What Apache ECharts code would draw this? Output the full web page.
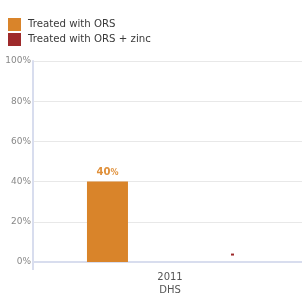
<!DOCTYPE html>
<html lang="en">
<head>
    <meta charset="UTF-8">
    <title>ORS chart</title>
    <script src="https://cdn.jsdelivr.net/npm/echarts@6/dist/echarts.min.js"></script>
    <style>
        html, body { margin: 0; padding: 0; background: #fff; }
        #chart { width: 302px; height: 294px; }
    </style>
</head>
<body>
    <div id="chart"></div>
<script>
    var categories = ['2011\nDHS'];
    var orsValues = [40];
    var zincValues = [4.2];
    var yTicks = [0, 20, 40, 60, 80, 100];

    var orange = '#d9842a';
    var red = '#9e2a2b';
    var axisBlue = '#d8ddee';

    var myChart = echarts.init(document.getElementById('chart'));
    var option = {
        animation: false,
        textStyle: { fontFamily: 'DejaVu Sans' },
        legend: {
            orient: 'vertical',
            left: 8,
            top: 18,
            padding: 0,
            itemWidth: 13,
            itemHeight: 13,
            itemGap: 2,
            icon: 'rect',
            selectedMode: false,
            textStyle: { fontSize: 10.2, color: '#3a3a3a', padding: [0, 0, 0, 2] },
            data: [
                { name: 'Treated with ORS', itemStyle: { color: orange } },
                { name: 'Treated with ORS + zinc', itemStyle: { color: red } }
            ]
        },
        grid: { left: 33, right: -5, top: 61, bottom: 32, containLabel: false, outerBoundsMode: 'none' },
        xAxis: {
            type: 'category',
            data: categories,
            axisLine: { lineStyle: { color: axisBlue, width: 2 } },
            axisTick: { show: true, length: 8, lineStyle: { color: axisBlue, width: 2 } },
            axisLabel: { color: '#555', fontSize: 10, lineHeight: 13, margin: 9 }
        },
        yAxis: {
            type: 'value',
            min: yTicks[0],
            max: yTicks[yTicks.length - 1],
            interval: 20,
            axisLine: { show: true, lineStyle: { color: axisBlue, width: 2 } },
            axisTick: { show: false },
            splitLine: { lineStyle: { color: '#e8e8e8', width: 1 } },
            axisLabel: {
                color: '#888', fontSize: 9, margin: 2,
                formatter: function (v) { return v + '%'; }
            }
        },
        series: [
            {
                name: 'Treated with ORS',
                type: 'bar',
                barWidth: 41,
                barGap: '205%',
                itemStyle: { color: orange },
                label: {
                    show: true,
                    position: 'top',
                    distance: 4,
                    formatter: function (p) { return '{a|' + p.value + '}{b|%}'; },
                    rich: {
                        a: { color: '#e0903a', fontSize: 10, fontWeight: 'bold' },
                        b: { color: '#e0903a', fontSize: 8, fontWeight: 'bold' }
                    }
                },
                data: orsValues
            },
            {
                name: 'Treated with ORS + zinc',
                type: 'bar',
                barWidth: 41,
                itemStyle: { color: 'rgba(0,0,0,0)' },
                label: {
                    show: true,
                    position: 'insideTop',
                    distance: 0,
                    formatter: '{m|}',
                    rich: {
                        m: { width: 3, height: 2, backgroundColor: red }
                    }
                },
                data: zincValues
            }
        ]
    };
    myChart.setOption(option);
</script>
</body>
</html>
